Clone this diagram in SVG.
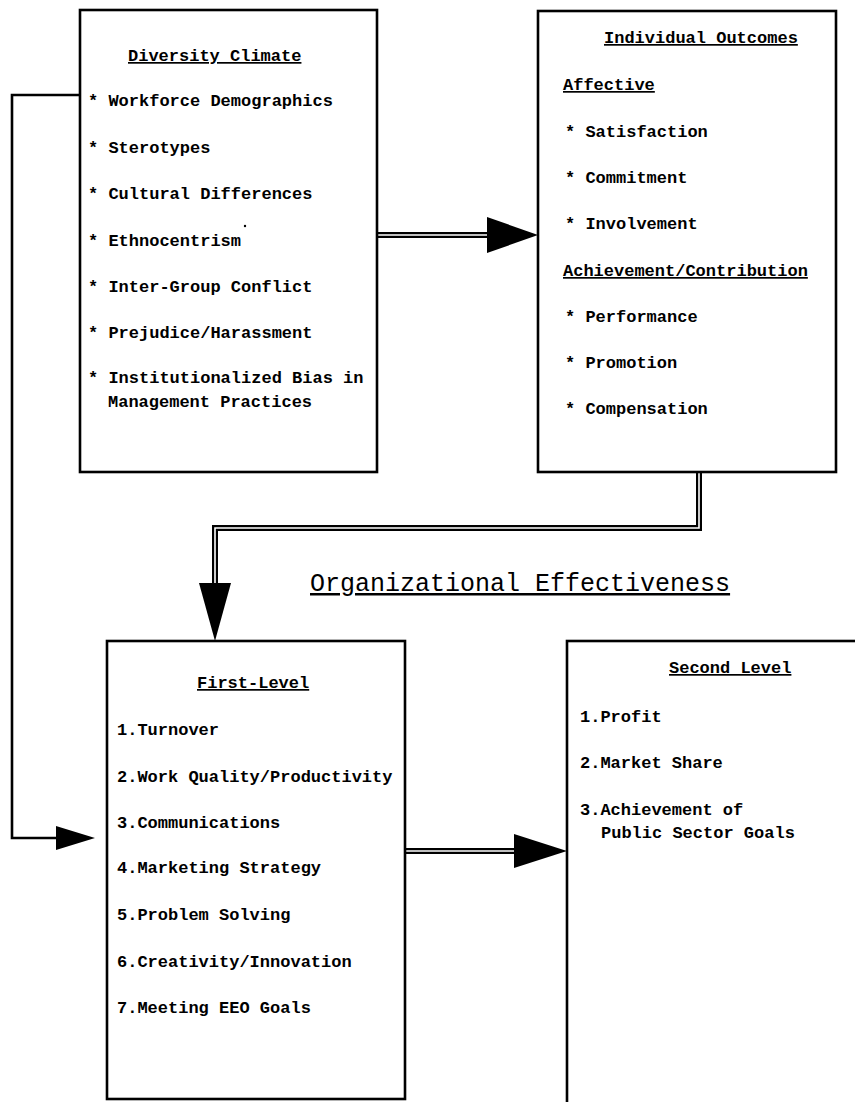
<svg xmlns="http://www.w3.org/2000/svg" width="855" height="1102" viewBox="0 0 855 1102">
<defs>
<style>
.box{fill:#fff;stroke:#000;stroke-width:2.6}
.t{font-family:"Liberation Mono","Courier New",monospace;font-size:17px;font-weight:bold;fill:#000}
.h{font-family:"Liberation Mono","Courier New",monospace;font-size:17px;font-weight:bold;fill:#000;text-decoration:underline}
.big{font-family:"Liberation Mono","Courier New",monospace;font-size:25px;fill:#000;text-decoration:underline}
.single{fill:none;stroke:#000;stroke-width:2.6}
.dblo{fill:none;stroke:#000;stroke-width:6;stroke-linejoin:miter}
.dbli{fill:none;stroke:#fff;stroke-width:1.6;stroke-linejoin:miter}
.head{fill:#000}
</style>
</defs>
<rect width="855" height="1102" fill="#fff"/>

<g id="connectors">
  <path class="single" d="M80,95 H12 V838 H58"/>
  <polygon class="head" points="56,826 95,838 56,850"/>

  <path class="dblo" d="M377,235 H490"/>
  <path class="dbli" d="M376,235 H491"/>
  <polygon class="head" points="487,217 538,235 487,253"/>

  <path class="dblo" d="M699,472 V528 H215 V586"/>
  <path class="dbli" d="M699,471 V528 H215 V587"/>
  <polygon class="head" points="199,583 231,583 215,641"/>

  <path class="dblo" d="M405,851 H517"/>
  <path class="dbli" d="M404,851 H518"/>
  <polygon class="head" points="514,834 567,851 514,868"/>
</g>

<g id="diversity-climate">
  <rect class="box" x="80" y="10" width="297" height="462"/>
  <text class="h" x="128" y="61">Diversity Climate</text>
  <text class="t" x="88" y="106">* Workforce Demographics</text>
  <text class="t" x="88" y="153">* Sterotypes</text>
  <text class="t" x="88" y="199">* Cultural Differences</text>
  <circle cx="245" cy="226" r="1.2" fill="#000"/>
  <text class="t" x="88" y="246">* Ethnocentrism</text>
  <text class="t" x="88" y="292">* Inter-Group Conflict</text>
  <text class="t" x="88" y="338">* Prejudice/Harassment</text>
  <text class="t" x="88" y="383">* Institutionalized Bias in</text>
  <text class="t" x="108" y="407">Management Practices</text>
</g>

<g id="individual-outcomes">
  <rect class="box" x="538" y="11" width="298" height="461"/>
  <text class="h" x="604" y="43">Individual Outcomes</text>
  <text class="h" x="563" y="90">Affective</text>
  <text class="t" x="565" y="137">* Satisfaction</text>
  <text class="t" x="565" y="183">* Commitment</text>
  <text class="t" x="565" y="229">* Involvement</text>
  <text class="h" x="563" y="276">Achievement/Contribution</text>
  <text class="t" x="565" y="322">* Performance</text>
  <text class="t" x="565" y="368">* Promotion</text>
  <text class="t" x="565" y="414">* Compensation</text>
</g>

<g id="org-effectiveness-title">
  <text class="big" x="310" y="591">Organizational Effectiveness</text>
</g>

<g id="first-level">
  <rect class="box" x="107" y="641" width="298" height="458"/>
  <text class="h" x="197" y="688">First-Level</text>
  <text class="t" x="117" y="735">1.Turnover</text>
  <text class="t" x="117" y="782">2.Work Quality/Productivity</text>
  <text class="t" x="117" y="828">3.Communications</text>
  <text class="t" x="117" y="873">4.Marketing Strategy</text>
  <text class="t" x="117" y="920">5.Problem Solving</text>
  <text class="t" x="117" y="967">6.Creativity/Innovation</text>
  <text class="t" x="117" y="1013">7.Meeting EEO Goals</text>
</g>

<g id="second-level">
  <rect class="box" x="567" y="641" width="310" height="480"/>
  <text class="h" x="669" y="673">Second Level</text>
  <text class="t" x="580" y="722">1.Profit</text>
  <text class="t" x="580" y="768">2.Market Share</text>
  <text class="t" x="580" y="815">3.Achievement of</text>
  <text class="t" x="601" y="838">Public Sector Goals</text>
</g>
</svg>
